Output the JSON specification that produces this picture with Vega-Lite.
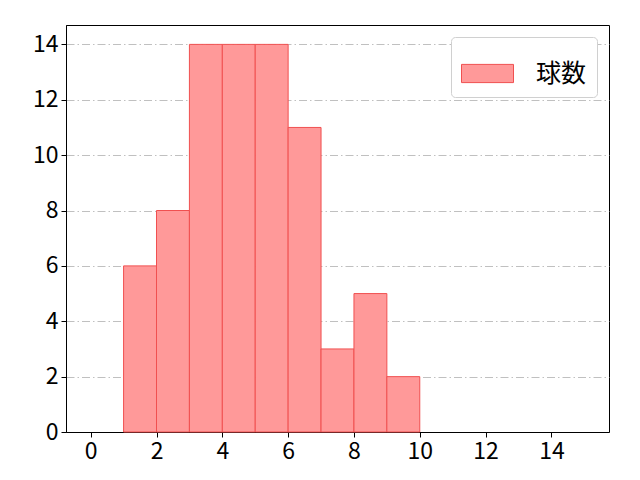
{
  "$schema": "https://vega.github.io/schema/vega-lite/v6.json",
  "width": 543,
  "height": 407,
  "autosize": {"type": "none"},
  "padding": {"left": 66, "top": 25, "right": 31, "bottom": 48},
  "background": "white",
  "config": {
    "font": "Noto Sans CJK JP",
    "view": {"stroke": "black", "strokeWidth": 1},
    "axis": {
      "labelFont": "Noto Sans CJK JP",
      "labelFontSize": 23,
      "labelColor": "black",
      "domainColor": "black",
      "tickColor": "black",
      "tickSize": 5,
      "labelPadding": 3
    }
  },
  "data": {
    "values": [
      {"bin_start": 1, "bin_end": 2, "count": 6, "series": "球数"},
      {"bin_start": 2, "bin_end": 3, "count": 8, "series": "球数"},
      {"bin_start": 3, "bin_end": 4, "count": 14, "series": "球数"},
      {"bin_start": 4, "bin_end": 5, "count": 14, "series": "球数"},
      {"bin_start": 5, "bin_end": 6, "count": 14, "series": "球数"},
      {"bin_start": 6, "bin_end": 7, "count": 11, "series": "球数"},
      {"bin_start": 7, "bin_end": 8, "count": 3, "series": "球数"},
      {"bin_start": 8, "bin_end": 9, "count": 5, "series": "球数"},
      {"bin_start": 9, "bin_end": 10, "count": 2, "series": "球数"}
    ]
  },
  "mark": {"type": "bar", "stroke": "#f05050", "strokeWidth": 1, "opacity": 1},
  "encoding": {
    "x": {
      "field": "bin_start",
      "type": "quantitative",
      "scale": {"domain": [-0.75, 15.75], "nice": false, "zero": false, "padding": 0},
      "axis": {"values": [0, 2, 4, 6, 8, 10, 12, 14], "grid": false, "title": null, "format": "d"}
    },
    "x2": {"field": "bin_end"},
    "y": {
      "field": "count",
      "type": "quantitative",
      "scale": {"domain": [0, 14.7], "nice": false, "padding": 0},
      "axis": {
        "values": [0, 2, 4, 6, 8, 10, 12, 14],
        "grid": true,
        "gridColor": "#b0b0b0",
        "gridDash": [8, 3, 1.5, 3],
        "gridWidth": 0.8,
        "title": null,
        "format": "d"
      }
    },
    "y2": {"datum": 0},
    "color": {
      "field": "series",
      "type": "nominal",
      "scale": {"range": ["#ff9999"]},
      "legend": {
        "title": null,
        "orient": "top-right",
        "offset": 12,
        "symbolType": "M-1,-0.35H1V0.35H-1Z",
        "symbolSize": 2704,
        "symbolStrokeColor": "#f05050",
        "symbolStrokeWidth": 1,
        "labelFontSize": 25,
        "labelFont": "Noto Sans CJK JP",
        "labelColor": "black",
        "labelOffset": 22,
        "strokeColor": "#d0d0d0",
        "cornerRadius": 4,
        "fillColor": "white",
        "padding": 10
      }
    }
  }
}
